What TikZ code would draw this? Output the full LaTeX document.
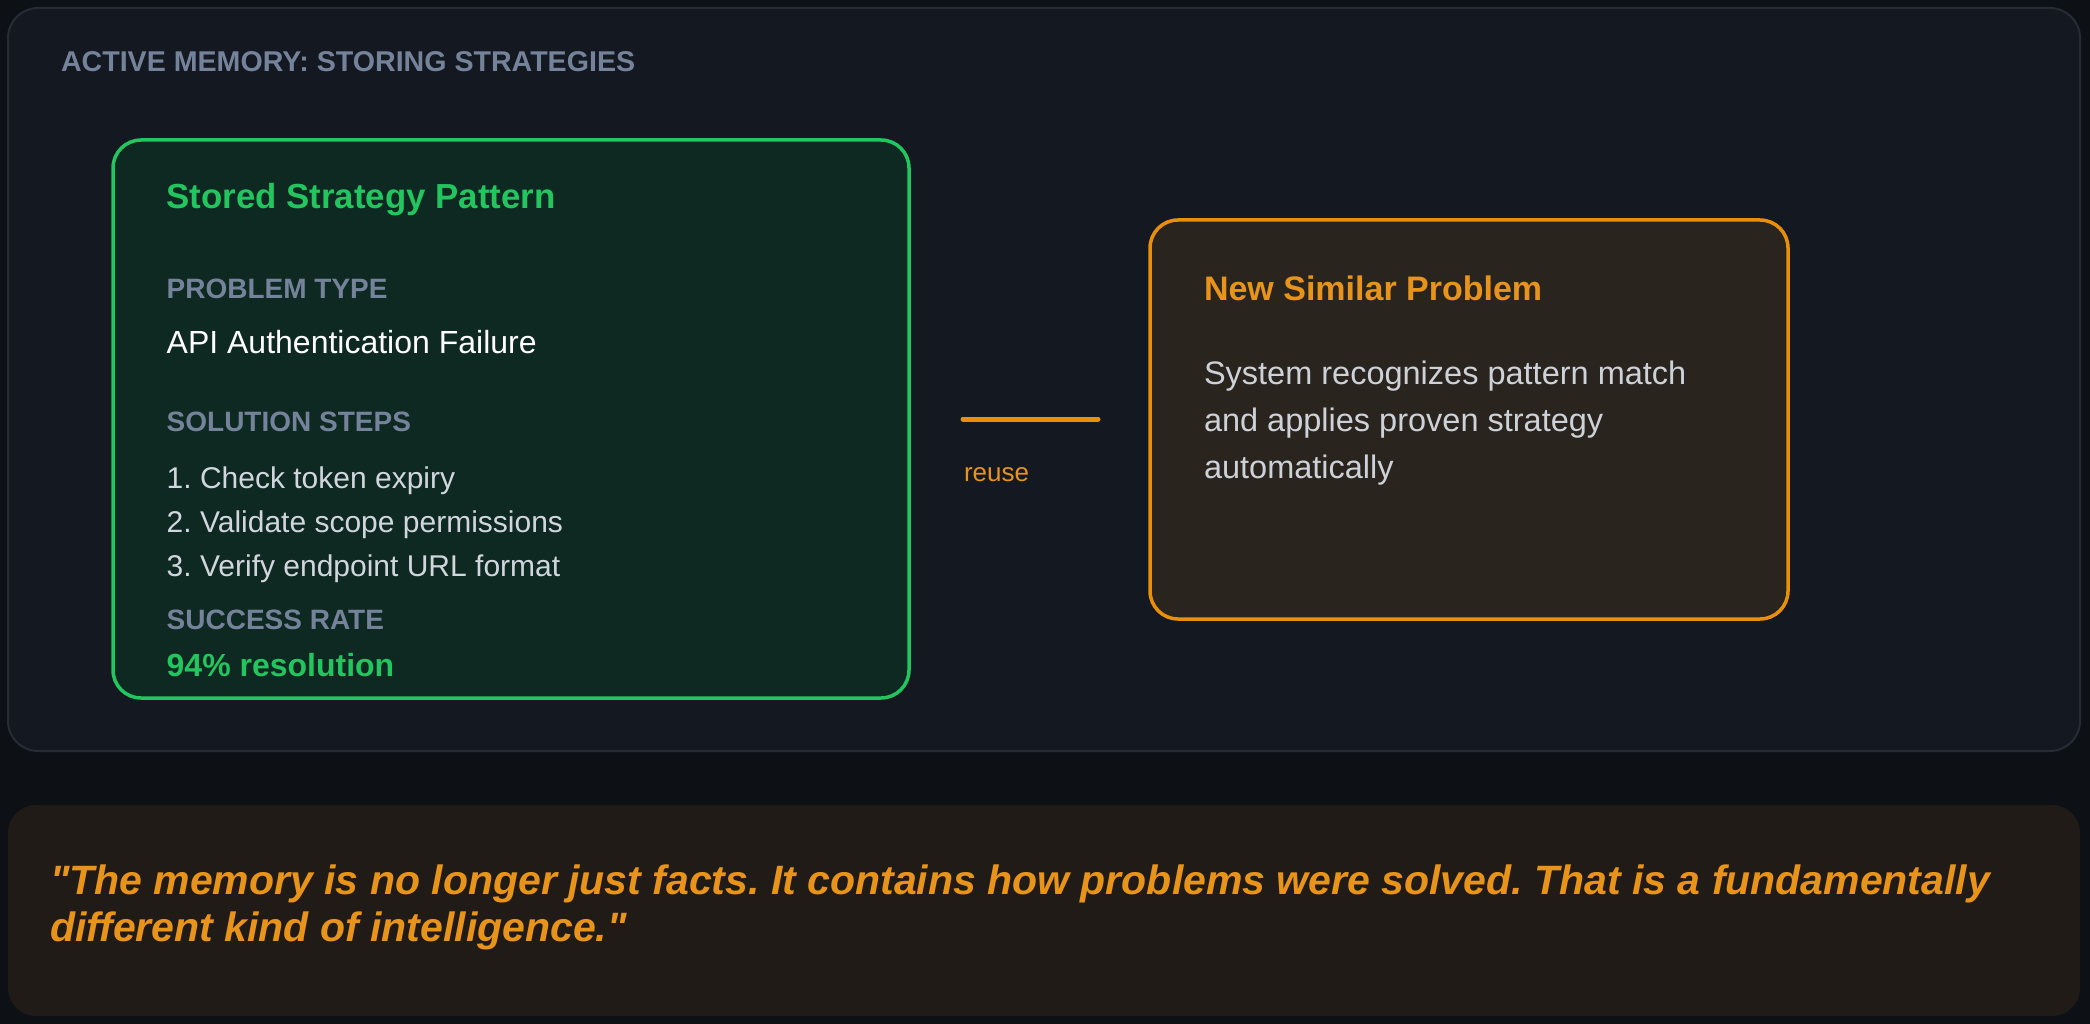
\documentclass[tikz,border=0pt]{standalone}
\usepackage{fontspec}
\setmainfont{Liberation Sans}[Ligatures=TeXOff]
\definecolor{pagebg}{HTML}{0D1015}
\definecolor{panelbg}{HTML}{131821}
\definecolor{panelline}{HTML}{262C36}
\definecolor{greenbg}{HTML}{0E2822}
\definecolor{greenline}{HTML}{22C55E}
\definecolor{greentext}{HTML}{22C55E}
\definecolor{labelgray}{HTML}{75839A}
\definecolor{steptext}{HTML}{D1D6DD}
\definecolor{orangebg}{HTML}{2A241E}
\definecolor{orangeline}{HTML}{E8900C}
\definecolor{orangetext}{HTML}{E8931A}
\definecolor{desctext}{HTML}{CDD1D8}
\definecolor{quotebg}{HTML}{201B16}
\newcommand\pxsize[1]{\fontsize{#1}{#1}\selectfont}
\frenchspacing
\begin{document}
\begin{tikzpicture}[x=1pt,y=-1pt,
  txt/.style={anchor=base west, inner sep=0pt, outer sep=0pt},
  boxshape/.style={anchor=north west, inner sep=0pt, outer sep=0pt},
  heading/.style={txt, font=\pxsize{28}\bfseries, text=labelgray},
  steptxt/.style={txt, font=\pxsize{30}, text=steptext},
  desc/.style={txt, font=\pxsize{32.5}, text=desctext},
  quotetxt/.style={txt, font=\pxsize{41}\bfseries\itshape, text=orangetext}]
\useasboundingbox (0,0) rectangle (2090,1024);
\fill[pagebg] (0,0) rectangle (2090,1024);
% outer panel
\node (panel) [boxshape, draw=panelline, line width=2pt, fill=panelbg, rounded corners=30pt,
  minimum width=2072pt, minimum height=743pt] at (8,8) {};
% quote box
\node (quotebox) [boxshape, fill=quotebg, rounded corners=28pt,
  minimum width=2072pt, minimum height=211pt] at (8,805) {};
% green box
\node (green) [boxshape, draw=greenline, line width=3.5pt, fill=greenbg, rounded corners=28pt,
  minimum width=796pt, minimum height=558pt] at (113,140) {};
% orange box
\node (orange) [boxshape, draw=orangeline, line width=3.5pt, fill=orangebg, rounded corners=28pt,
  minimum width=638pt, minimum height=399pt] at (1150,220) {};
% texts
\node (title) [txt, font=\pxsize{28.6}\bfseries, text=labelgray] at (61,71.7) {ACTIVE MEMORY: STORING STRATEGIES};
\node (gtitle) [txt, font=\pxsize{34.8}\bfseries, text=greentext] at (166.7,208.3) {Stored Strategy Pattern};
\node (ptype) [heading] at (166.7,298.3) {PROBLEM TYPE};
\node (api) [txt, font=\pxsize{32}, text=white] at (166.7,353) {API Authentication Failure};
\node (solsteps) [heading] at (166.7,431.5) {SOLUTION STEPS};
\node (s1) [steptxt] at (166.7,488.3) {1. Check token expiry};
\node (s2) [steptxt] at (166.7,532) {2. Validate scope permissions};
\node (s3) [steptxt] at (166.7,576) {3. Verify endpoint URL format};
\node (srate) [heading] at (166.7,629) {SUCCESS RATE};
\node (pct) [txt, font=\pxsize{32}\bfseries, text=greentext] at (166.7,676) {94\% resolution};
\node (otitle) [txt, font=\pxsize{34}\bfseries, text=orangetext] at (1204,301) {New Similar Problem};
\node (d1) [desc] at (1204,384.3) {System recognizes pattern match};
\node (d2) [desc] at (1204,431) {and applies proven strategy};
\node (d3) [desc] at (1204,478.3) {automatically};
% connector
\coordinate (ra) at (963,419);
\coordinate (rb) at (1098,419);
\draw[orangeline, line width=5pt, line cap=round] (ra) -- (rb);
\node (reuse) [txt, font=\pxsize{26}, text=orangetext] at (964,481.7) {reuse};
% quote
\node (q1) [quotetxt] at (50,894) {"The memory is no longer just facts. It contains how problems were solved. That is a fundamentally};
\node (q2) [quotetxt] at (50,941.7) {different kind of intelligence."};
\end{tikzpicture}
\end{document}
